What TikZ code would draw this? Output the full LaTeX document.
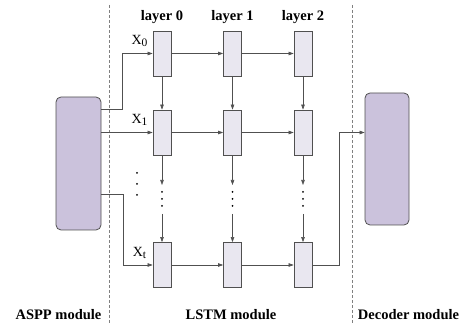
\documentclass[tikz,border=0pt]{standalone}
\usepackage{fontspec}
\setmainfont{Liberation Serif}
\usetikzlibrary{arrows.meta}
\definecolor{cellfill}{HTML}{E9E7F0}
\definecolor{modfill}{HTML}{CBC2DC}
\definecolor{edge}{HTML}{505050}
\newcommand{\xlab}[1]{X\raisebox{-0.4ex}{\fontsize{11.5}{12}\selectfont #1}}
\begin{document}
\begin{tikzpicture}[x=1pt, y=-1pt,
    cell/.style={draw=edge, fill=cellfill, line width=0.7pt, minimum width=18pt, minimum height=45pt, inner sep=0pt},
    module/.style={draw=edge, fill=modfill, line width=0.8pt, rounded corners=5pt, minimum width=45pt, minimum height=133pt, inner sep=0pt},
    flow/.style={draw=edge, line width=0.6pt, -{Triangle[length=5pt,width=3.5pt]}},
    wire/.style={draw=edge, line width=0.6pt},
    title/.style={font=\fontsize{14.5}{16}\selectfont\bfseries, anchor=base},
    xname/.style={font=\fontsize{14}{16}\selectfont, inner sep=0pt}]
    \useasboundingbox (0,0) rectangle (464,323);

    % module borders
    \draw[gray, line width=0.6pt, dash pattern=on 3pt off 2pt] (109,5) -- (109,323);
    \draw[gray, line width=0.6pt, dash pattern=on 3pt off 2pt] (352,5) -- (352,323);

    \node[module] (aspp) at (78.5,163.5) {};
    \node[module, minimum width=44pt, minimum height=132pt] (dec) at (387,159) {};

    % LSTM grid
    \foreach \r/\y in {0/53.5,1/132.5,t/265}
        \foreach \c/\x in {0/162,1/232.5,2/303}
            \node[cell] (cell-\r-\c) at (\x,\y) {};

    \foreach \c/\x/\n in {0/162/0,1/232.5/1,2/303/2} {
        \node[title] (layer-\c) at (\x,21) {layer \n};
        \coordinate (gap-top-\c) at (\x,185);
        \coordinate (gap-bot-\c) at (\x,214);
        \draw[flow] (cell-0-\c) -- (cell-1-\c);
        \draw[flow] (cell-1-\c) -- (gap-top-\c);
        \draw[flow] (gap-bot-\c) -- (cell-t-\c);
        \foreach \d in {192,199,206}
            \fill (\x,\d) circle (1pt);
    }
    \foreach \r in {0,1,t} {
        \draw[flow] (cell-\r-0) -- (cell-\r-1);
        \draw[flow] (cell-\r-1) -- (cell-\r-2);
    }
    \foreach \d in {173,184,195}
        \fill (137,\d) circle (1pt);

    \node[xname] (x-0) at (139.5,41) {\xlab{0}};
    \node[xname] (x-1) at (139.5,120) {\xlab{1}};
    \node[xname] (x-t) at (139.5,253) {\xlab{t}};

    % inputs and output
    \draw[flow] ([yshift=54.5pt]aspp.east) -- ++(21,0) |- (cell-0-0.west);
    \draw[flow] (aspp.east |- cell-1-0.west) -- (cell-1-0.west);
    \draw[flow] ([yshift=-30.5pt]aspp.east) -- ++(22,0) |- (cell-t-0.west);
    \draw[flow] (cell-t-2.east) -- ++(27,0) |- (dec.west |- cell-1-2.east);

    \node[title] (aspp-name) at (58.5,320) {ASPP module};
    \node[title] (lstm-name) at (231,320) {LSTM module};
    \node[title] (dec-name) at (408.5,320) {Decoder module};
\end{tikzpicture}
\end{document}
